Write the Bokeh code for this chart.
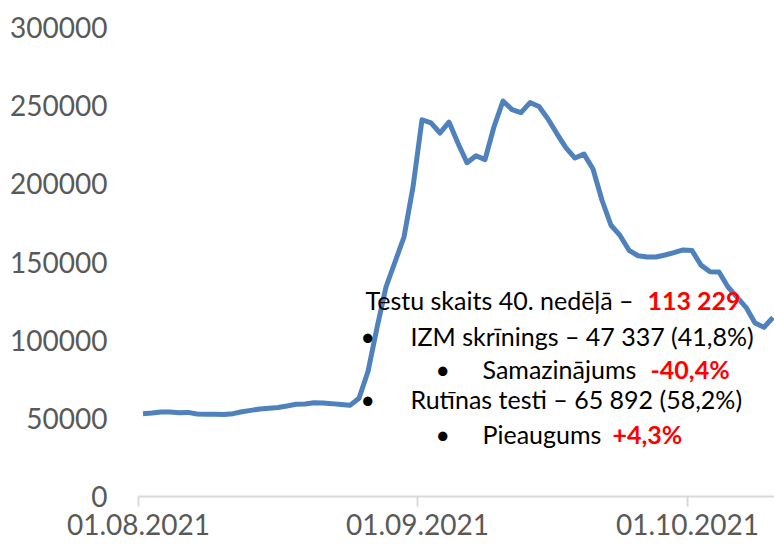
from datetime import datetime, timedelta
from bokeh.plotting import figure
from bokeh.models import (Range1d, FixedTicker, DatetimeTickFormatter, NumeralTickFormatter,
                          Label, ColumnDataSource)
from bokeh.embed import file_html
from bokeh.resources import INLINE

# ---- data -------------------------------------------------------------
start_date = "2021-08-01"
tests = [53000, 53400, 54000, 54000, 53600, 53800, 52800, 52600, 52600, 52400,
         53000, 54200, 55100, 56000, 56400, 56900, 57900, 59000, 59200, 60000,
         59800, 59400, 58800, 58300, 62800, 80000, 108000, 134000, 150000, 166000,
         198000, 241000, 239000, 232500, 239500, 226000, 213500, 218000, 215500, 236500,
         253000, 247500, 245500, 252000, 249500, 241500, 232000, 223000, 216500, 219000,
         209500, 189500, 173500, 167000, 157500, 154000, 153200, 153200, 154500, 156000,
         157700, 157300, 148000, 143800, 143600, 134000, 127500, 121000, 111000, 108300,
         114500]
tick_dates = ["2021-08-01", "2021-09-01", "2021-10-01"]
y_ticks = [0, 50000, 100000, 150000, 200000, 250000, 300000]

title_text = "Testu skaits 40. nedēļā – "
title_value = "113 229"
line2_text = "IZM skrīnings – 47 337 (41,8%)"
line3_text = "Samazinājums "
line3_value = "-40,4%"
line4_text = "Rutīnas testi – 65 892 (58,2%)"
line5_text = "Pieaugums "
line5_value = "+4,3%"

# ---- build --------------------------------------------------------------
d0 = datetime.strptime(start_date, "%Y-%m-%d")
xs = [d0 + timedelta(days=i, hours=12) for i in range(len(tests))]  # mid-day slots
src = ColumnDataSource(dict(x=xs, y=tests))

W, H = 774, 550
LEFT, TOP, BOTTOM = 138, 27, 54
X_END_DAYS = (W - LEFT) / 9.0
PX_PER_DAY = (W - LEFT) / X_END_DAYS
PX_PER_VAL = (H - TOP - BOTTOM) / 300000.0
OFF = 0  # page offset of the canvas in the picture

def ms(days):
    return (d0 + timedelta(days=days) - datetime(1970, 1, 1)).total_seconds() * 1000.0

def fx(px):   # picture pixel -> days since start
    return (px - OFF - LEFT) / PX_PER_DAY

def fy(py):   # picture pixel -> value
    return (H - BOTTOM + OFF - py) / PX_PER_VAL

FONT = "Lato"

p = figure(width=W, height=H, output_backend="svg", toolbar_location=None,
           x_axis_type="datetime",
           x_range=Range1d(d0, d0 + timedelta(days=X_END_DAYS)),
           y_range=Range1d(0, 300000),
           min_border_left=LEFT, min_border_right=0, min_border_top=TOP, min_border_bottom=BOTTOM)
p.outline_line_color = None
p.xgrid.visible = False
p.ygrid.visible = False
p.background_fill_color = "white"
p.border_fill_color = "white"

p.line("x", "y", source=src, line_color="#4F81BD", line_width=5, line_join="round")

xa = p.xaxis[0]
xa.ticker = FixedTicker(ticks=[ms((datetime.strptime(t, "%Y-%m-%d") - d0).days) for t in tick_dates])
fmt = "%d.%m.%Y"
xa.formatter = DatetimeTickFormatter(days=fmt, months=fmt, years=fmt, hours=fmt,
                                     hourmin=fmt, minutes=fmt, minsec=fmt, seconds=fmt,
                                     milliseconds=fmt, microseconds=fmt)
xa.axis_line_color = "#d9d9d9"
xa.axis_line_width = 2
xa.major_tick_line_color = "#d9d9d9"
xa.major_tick_line_width = 2
xa.major_tick_out = 10
xa.major_tick_in = 0
xa.minor_tick_line_color = None
xa.major_label_text_font = FONT
xa.major_label_text_font_size = "28px"
xa.major_label_text_color = "#595959"
xa.major_label_standoff = 7

ya = p.yaxis[0]
ya.ticker = FixedTicker(ticks=y_ticks)
ya.formatter = NumeralTickFormatter(format="0")
ya.axis_line_color = None
ya.major_tick_line_color = None
ya.minor_tick_line_color = None
ya.major_tick_out = 0
ya.major_tick_in = 0
ya.major_label_text_font = FONT
ya.major_label_text_font_size = "28px"
ya.major_label_text_color = "#595959"
ya.major_label_standoff = 31

# ---- annotation text ----------------------------------------------------
def lab(text, px, py, color="black", bold=False):
    p.add_layout(Label(x=ms(fx(px)), y=fy(py), text=text, text_font=FONT,
                       text_font_size="25px", text_color=color,
                       text_font_style="bold" if bold else "normal",
                       text_baseline="alphabetic", text_align="left"))

lab(title_text, 365, 299)
lab(title_value, 647, 299, "#FF0000", True)
lab("•", 360, 335)
lab(line2_text, 410, 335)
lab("•", 435, 368)
lab(line3_text, 482, 368)
lab(line3_value, 650, 368, "#FF0000", True)
lab("•", 360, 398)
lab(line4_text, 410, 398)
lab("•", 435, 433)
lab(line5_text, 482, 433)
lab(line5_value, 612, 433, "#FF0000", True)

open("out.html", "w").write(file_html(p, INLINE))
